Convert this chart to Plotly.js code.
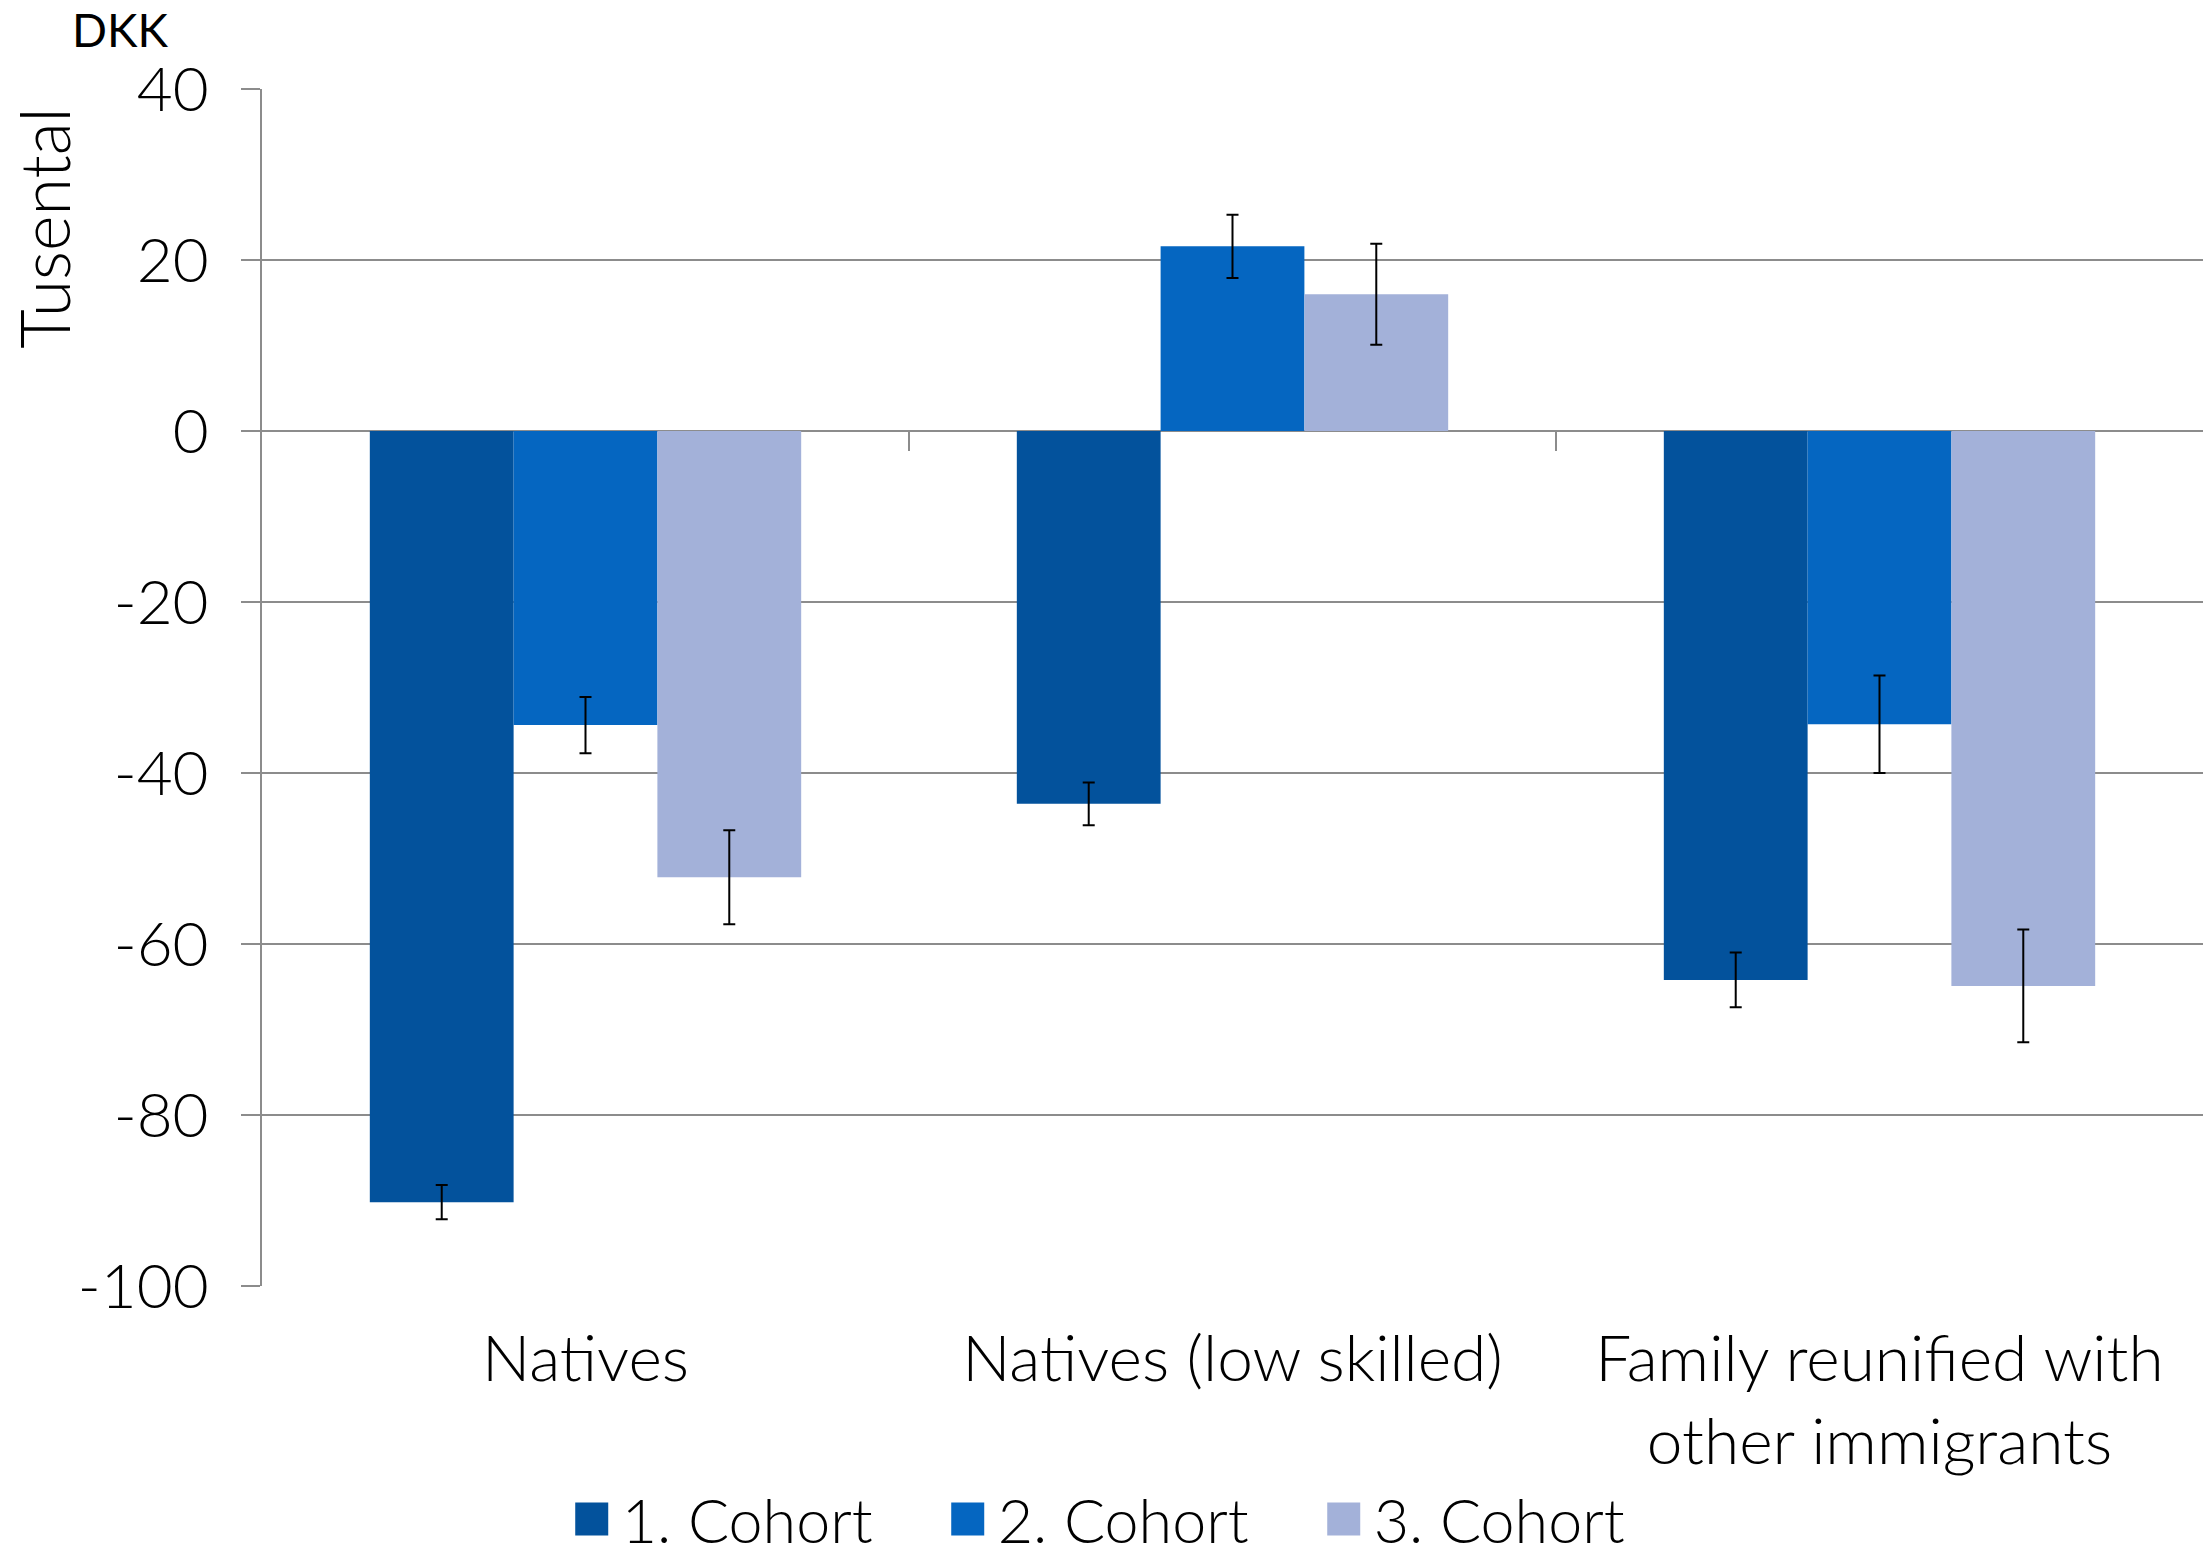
<!DOCTYPE html>
<html>
<head>
<meta charset="utf-8">
<script src="https://cdn.plot.ly/plotly-3.0.1.min.js"></script>
<style>html,body{margin:0;padding:0;background:#fff;}#chart{width:2203px;height:1556px;}</style>
</head>
<body>
<div id="chart"></div>
<script>
const categories = ["Natives", "Natives (low skilled)", "Family reunified with<br>other immigrants"];
const seriesNames = ["1. Cohort", "2. Cohort", "3. Cohort"];
const cohort1 = [-90.2, -43.6, -64.2];
const cohort2 = [-34.4, 21.6, -34.3];
const cohort3 = [-52.2, 16.0, -64.9];
const err1 = [2.0, 2.5, 3.2];
const err2 = [3.3, 3.7, 5.7];
const err3 = [5.5, 5.9, 6.6];
const yTickVals = [-100, -80, -60, -40, -20, 0, 20, 40];
const yTickText = ["-100", "-80", "-60", "-40", "-20", "0", "20", "40"];
const colors = ["#03529C", "#0566C1", "#A3B1D9"];

const FONT = "Lato, Open Sans, sans-serif";
const GRID = "#8c8c8c";

function barTrace(name, vals, errs, color) {
  return {
    type: "bar", name: name, x: categories, y: vals,
    marker: {color: color},
    error_y: {type: "data", array: errs, visible: true, color: "#000", thickness: 2, width: 6},
    hoverinfo: "skip"
  };
}

const data = [
  barTrace(seriesNames[0], cohort1, err1, colors[0]),
  barTrace(seriesNames[1], cohort2, err2, colors[1]),
  barTrace(seriesNames[2], cohort3, err3, colors[2]),
  {type: "scatter", x: [], y: [], xaxis: "x2", yaxis: "y", showlegend: false, hoverinfo: "skip"}
];

const layout = {
  width: 2203, height: 1556,
  paper_bgcolor: "#fff", plot_bgcolor: "#fff",
  margin: {l: 262, r: 0, t: 89, b: 270, autoexpand: false},
  font: {family: FONT, color: "#000", size: 62, weight: 300},
  barmode: "group", bargap: 0.3333, bargroupgap: 0,
  showlegend: true,
  legend: {
    orientation: "h", xref: "container", yref: "container",
    x: 0.511, xanchor: "center", y: 0.0235, yanchor: "middle",
    font: {family: FONT, size: 61, weight: 300, color: "#000"},
    itemwidth: 50, entrywidth: 311, entrywidthmode: "pixels",
    traceorder: "normal"
  },
  xaxis: {
    type: "category", range: [-0.5, 2.5], automargin: false,
    showline: false, showgrid: false, zeroline: false,
    ticks: "", ticklabelstandoff: 30,
    tickfont: {family: FONT, size: 64, weight: 300, color: "#000"}
  },
  xaxis2: {
    overlaying: "x", anchor: "free", position: 100 / 140, side: "bottom",
    type: "linear", range: [-0.5, 2.5], automargin: false,
    tickvals: [0.5, 1.5], showticklabels: false,
    ticks: "outside", ticklen: 19, tickwidth: 2, tickcolor: GRID,
    showgrid: false, zeroline: false, showline: false
  },
  yaxis: {
    range: [-100, 40], tickvals: yTickVals, ticktext: yTickText, automargin: false,
    showgrid: true, gridcolor: GRID, gridwidth: 2,
    zeroline: true, zerolinecolor: GRID, zerolinewidth: 2,
    showline: true, linecolor: GRID, linewidth: 2,
    ticks: "outside", ticklen: 19, tickwidth: 2, tickcolor: GRID,
    ticklabelstandoff: 20,
    tickfont: {family: FONT, size: 62, weight: 300, color: "#000"}
  },
  annotations: [
    {
      text: "DKK", xref: "paper", yref: "paper", x: -0.073, y: 1.050,
      xanchor: "center", yanchor: "middle", showarrow: false,
      font: {family: FONT, size: 46, weight: 400, color: "#000"}
    },
    {
      text: "Tusental", xref: "paper", yref: "paper", x: -0.1125, y: 1 - (228 - 89) / 1197,
      xanchor: "center", yanchor: "middle", showarrow: false, textangle: -90,
      font: {family: FONT, size: 68, weight: 300, color: "#000"}
    }
  ]
};

Plotly.newPlot("chart", data, layout, {displayModeBar: false, staticPlot: true}).then(function (gd) {
  gd.querySelectorAll(".legend .legendpoints path").forEach(function (p) {
    const t = p.getAttribute("transform") || "";
    p.setAttribute("transform", t + " scale(2.75)");
  });
});
</script>
</body>
</html>
